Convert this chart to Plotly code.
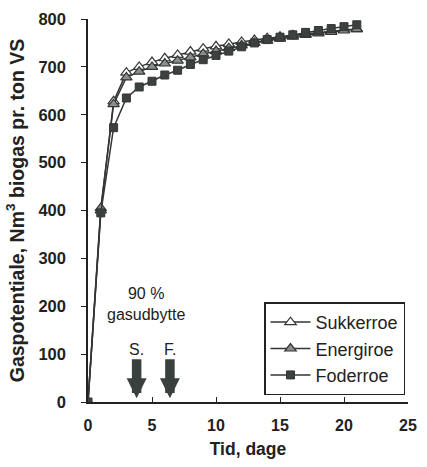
import plotly.graph_objects as go

days = list(range(0, 22))
sukkerroe = [0, 400, 628, 688, 700, 710, 718, 725, 732, 738, 743, 748, 752, 756, 760, 763, 766, 769, 772, 775, 777, 779]
energiroe = [0, 405, 622, 678, 690, 700, 707, 713, 720, 727, 733, 739, 745, 750, 755, 759, 763, 767, 770, 773, 776, 779]
foderroe = [0, 395, 573, 635, 658, 670, 683, 693, 705, 715, 724, 733, 742, 750, 757, 762, 767, 772, 776, 780, 784, 788]

arrow_days = [3.8, 6.4]
arrow_labels = ["S.", "F."]

FONT = "Liberation Sans, Arial, sans-serif"
DARK = "#333634"

fig = go.Figure()
fig.add_trace(go.Scatter(x=days, y=sukkerroe, name="Sukkerroe", mode="lines+markers",
                         line=dict(color=DARK, width=1.5),
                         marker=dict(symbol="triangle-up", size=10, color="white",
                                     line=dict(color=DARK, width=1.2))))
fig.add_trace(go.Scatter(x=days, y=energiroe, name="Energiroe", mode="lines+markers",
                         line=dict(color=DARK, width=1.5),
                         marker=dict(symbol="triangle-up", size=10, color="#8a8d8b",
                                     line=dict(color=DARK, width=1.2))))
fig.add_trace(go.Scatter(x=days, y=foderroe, name="Foderroe", mode="lines+markers",
                         line=dict(color=DARK, width=1.5),
                         marker=dict(symbol="square", size=8, color="#3c413f",
                                     line=dict(color=DARK, width=1))))

annotations = [
    dict(x=4.5, y=205, xref="x", yref="y", text="90 %<br>gasudbytte", showarrow=False,
         font=dict(family=FONT, size=16, color="#222"), align="center"),
]
for d, lab in zip(arrow_days, arrow_labels):
    annotations.append(dict(x=d, y=8, xref="x", yref="y", ax=d, ay=110, axref="x", ayref="y",
                            text=lab, showarrow=True, arrowhead=2, arrowsize=0.42,
                            arrowwidth=9.5, arrowcolor="#3a403d", standoff=0, startstandoff=0,
                            font=dict(family=FONT, size=16, color="#222")))

fig.update_layout(
    width=427, height=467,
    margin=dict(l=88, r=10, t=19, b=65),
    paper_bgcolor="white", plot_bgcolor="white",
    font=dict(family=FONT, size=16, color="#222"),
    showlegend=True,
    legend=dict(x=0.55, y=0.26, xanchor="left", yanchor="top",
                bordercolor="#222", borderwidth=1.5, bgcolor="white",
                font=dict(family=FONT, size=18, color="#222"),
                itemwidth=40, tracegroupgap=0),
    annotations=annotations,
    xaxis=dict(range=[0, 25], tickvals=[0, 5, 10, 15, 20, 25], showgrid=False,
               zeroline=False, showline=True, linecolor="#222", linewidth=1.5,
               ticks="inside", ticklen=5, tickcolor="#222", ticklabelstandoff=8,
               tickfont=dict(family=FONT, size=16, color="#222", weight="bold"),
               title=dict(text="<b>Tid, dage</b>", font=dict(family=FONT, size=17.5, color="#222"),
                          standoff=10)),
    yaxis=dict(range=[0, 800], tickvals=list(range(0, 801, 100)), showgrid=False,
               zeroline=False, showline=True, linecolor="#222", linewidth=1.5,
               ticks="outside", ticklen=5, tickcolor="#222", ticklabelstandoff=12,
               tickfont=dict(family=FONT, size=16.5, color="#222", weight="bold"),
               title=dict(text="<b>Gaspotentiale, Nm<sup>3</sup> biogas pr. ton VS</b>",
                          font=dict(family=FONT, size=19.5, color="#222"), standoff=9)),
)

fig.write_html("out.html")
